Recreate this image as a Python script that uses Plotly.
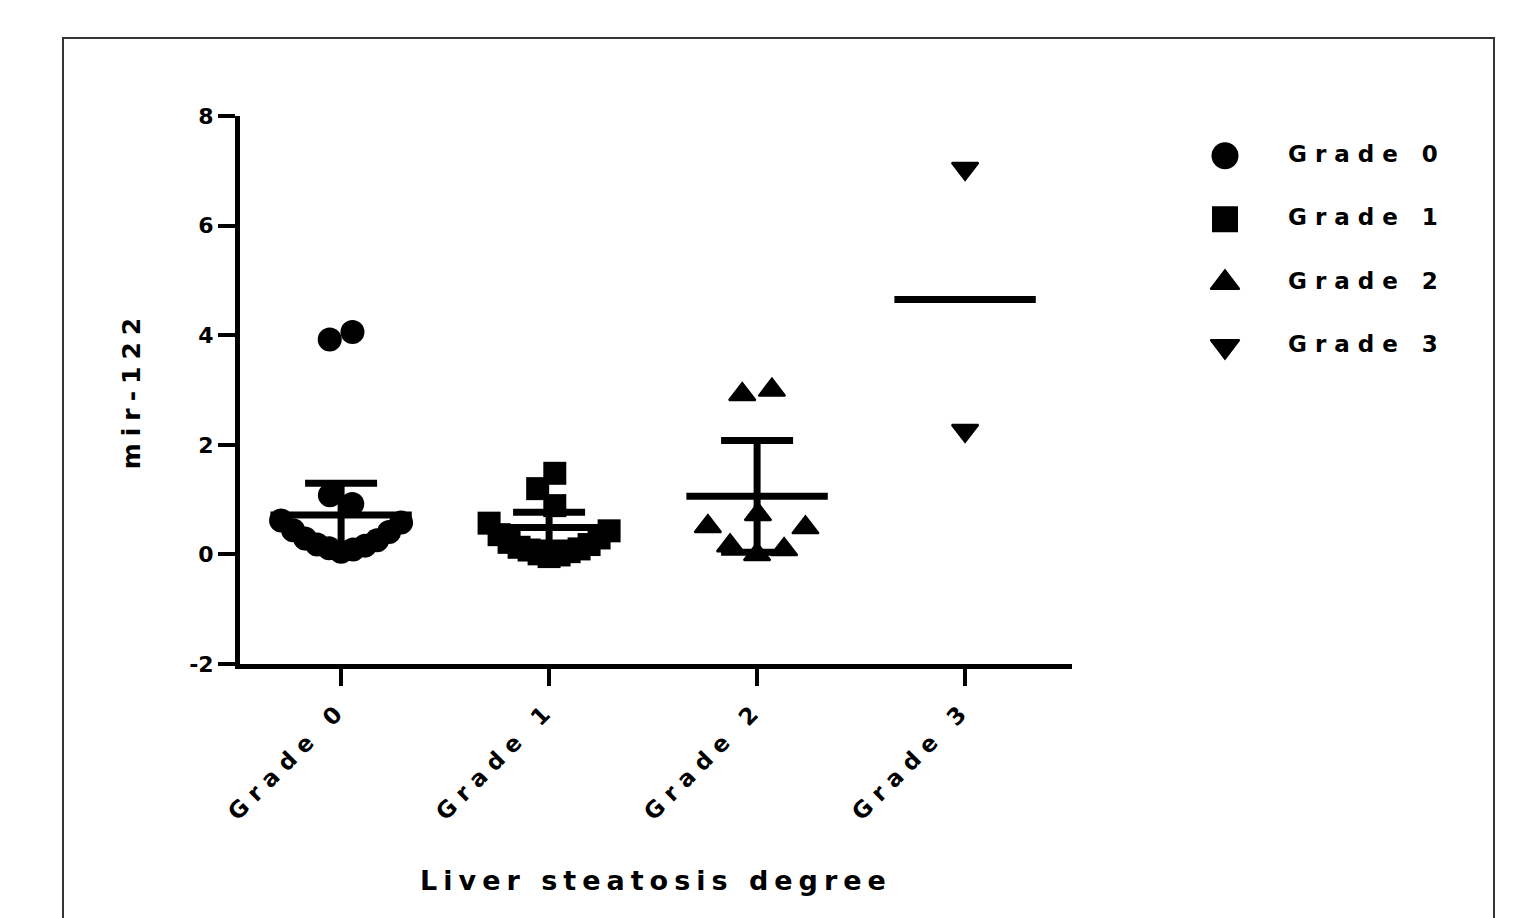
import math
import numpy as np
import plotly.graph_objects as go

# ---------------- data ----------------
categories = ["Grade 0", "Grade 1", "Grade 2", "Grade 3"]
grade0 = [0.05, 0.09, 0.11, 0.16, 0.18, 0.26, 0.29, 0.41, 0.44, 0.58, 0.62,
          0.92, 1.08, 3.92, 4.06]
grade1 = [-0.04, -0.01, 0.01, 0.05, 0.08, 0.10, 0.13, 0.18, 0.22, 0.30, 0.36, 0.43, 0.57,
          1.48, 1.20, 0.89]
grade2 = [0.00, 0.09, 0.16, 0.73, 0.49, 0.51, 3.00, 2.92]
grade3 = [2.26, 7.04]
means = [0.72, 0.49, 1.06, 4.65]
errors = [0.58, 0.28, 1.02, 0.0]
symbols = ["circle", "square", "triangle-up", "triangle-down"]
y_ticks = [-2, 0, 2, 4, 6, 8]
y_tick_labels = ["-2", "0", "2", "4", "6", "8"]
x_title = "Liver steatosis degree"
y_title = "mir-122"

groups = [grade0, grade1, grade2, grade3]

# ---------------- layout geometry ----------------
W, H = 1523, 918
ML, MR, MT, MB = 240, 23, 116, 254
PW, PH = W - ML - MR, H - MT - MB
MAIN_RIGHT = 1072
XR = [-0.486, 3.514]
YR = [-2, 8]
PX_X = (MAIN_RIGHT - ML) / (XR[1] - XR[0])
PX_Y = PH / (YR[1] - YR[0])
SWARM_STEP_PX = [12, 10, 27, 12]   # column spacing of the dense lower cluster
SWARM_DIST_PX = [24, 23, 30, 24]   # no-overlap distance for the other points
CLUSTER_GAP = 0.25


def px_to_paper_x(px):
    return (px - ML) / PW


def px_to_paper_y(py):
    return (H - MB - py) / PH


def dot_layout(values, step_px, dist_px):
    """Scatter-dot layout: the dense lowest cluster is spread centre-out by rank
    (a 'smile'); the remaining points are placed one by one at the free position
    closest to the centre, then each touching group of them is re-centred."""
    vals = [float(v) for v in values]
    idx_sorted = sorted(range(len(vals)), key=lambda i: vals[i])
    nb = 1
    while nb < len(idx_sorted) and vals[idx_sorted[nb]] - vals[idx_sorted[nb - 1]] <= CLUSTER_GAP:
        nb += 1
    col_order = [0] + [s * k for k in range(1, 60) for s in (1, -1)]
    offs = [None] * len(vals)
    placed = []
    for rank, i in enumerate(idx_sorted[:nb]):
        x = col_order[rank] * step_px
        offs[i] = x
        placed.append((x, vals[i] * PX_Y))
    side = -1
    rest = []
    for i in range(len(vals)):
        if offs[i] is not None:
            continue
        rest.append(i)
        y = vals[i] * PX_Y
        cands = {0.0}
        for xp, yp in placed:
            dy = y - yp
            if abs(dy) < dist_px:
                dx = math.sqrt(dist_px ** 2 - dy ** 2)
                cands.add(xp + dx)
                cands.add(xp - dx)
        best = 0.0
        for c in sorted(cands, key=lambda c: (round(abs(c), 3), -side * c)):
            if all((c - xp) ** 2 + (y - yp) ** 2 >= dist_px ** 2 - 1e-6 for xp, yp in placed):
                best = c
                break
        if abs(best) > 1e-9:
            side = -side
        offs[i] = best
        placed.append((best, y))
    # re-centre groups of upper points that touch each other
    rest.sort(key=lambda i: vals[i])
    groups_ = []
    for i in rest:
        if groups_ and (vals[i] - vals[groups_[-1][-1]]) * PX_Y < dist_px:
            groups_[-1].append(i)
        else:
            groups_.append([i])
    for g in groups_:
        if len(g) > 1:
            shift = np.mean([offs[i] for i in g])
            for i in g:
                offs[i] -= shift
    return np.array(offs) / PX_X


FONT = "DejaVu Sans"
fig = go.Figure()

marker_sizes = [24, 23, 23, 23]
for i, (vals, sym) in enumerate(zip(groups, symbols)):
    offs = dot_layout(vals, SWARM_STEP_PX[i], SWARM_DIST_PX[i])
    tri = "triangle" in sym
    fig.add_trace(go.Scatter(
        x=i + offs, y=vals, mode="markers", name=categories[i], showlegend=False,
        marker=dict(symbol=sym, size=marker_sizes[i], color="black", opacity=1,
                    line=dict(width=2 if tri else 0, color="black")),
        cliponaxis=False, hoverinfo="y",
    ))

# mean lines with error bars
fig.add_trace(go.Scatter(
    x=list(range(len(categories))), y=means, mode="markers", showlegend=False,
    marker=dict(symbol="line-ew", size=101, color="black", opacity=1,
                line=dict(width=7, color="black")),
    error_y=dict(type="data", array=errors, thickness=7, width=36, color="black"),
    cliponaxis=False, hoverinfo="y",
))

# legend (markers + labels) on a hidden helper axis pair
n = len(categories)
fig.add_trace(go.Scatter(
    x=np.zeros(n), y=categories, mode="markers", showlegend=False, xaxis="x2", yaxis="y2",
    marker=dict(symbol=symbols, size=[27, 26, 25, 25], color="black", opacity=1,
                line=dict(width=[0, 0, 2, 2], color="black")),
    cliponaxis=False, hoverinfo="skip",
))
fig.add_trace(go.Scatter(
    x=np.ones(n), y=categories, mode="text", text=categories, textposition="middle right",
    showlegend=False, xaxis="x2", yaxis="y2",
    textfont=dict(family=FONT, size=23, color="black", weight="bold"),
    cliponaxis=False, hoverinfo="skip",
))

axis_common = dict(
    showline=True, linewidth=5, linecolor="black", ticks="outside", ticklen=17,
    tickwidth=4, tickcolor="black", showgrid=False, zeroline=False,
)

fig.update_layout(
    width=W, height=H,
    margin=dict(l=ML, r=MR, t=MT, b=MB, autoexpand=False),
    paper_bgcolor="white", plot_bgcolor="white",
    showlegend=False,
    xaxis=dict(
        domain=[0, px_to_paper_x(MAIN_RIGHT)], range=XR,
        tickmode="array", tickvals=list(range(n)), ticktext=categories,
        tickangle=-45,
        tickfont=dict(family=FONT, size=23, color="black", weight="bold"),
        title=dict(text=x_title, standoff=88,
                   font=dict(family=FONT, size=27, color="black", weight="bold")),
        **axis_common,
    ),
    yaxis=dict(
        range=YR, tickmode="array", tickvals=y_ticks, ticktext=y_tick_labels,
        tickfont=dict(family=FONT, size=22, color="black", weight="bold"),
        title=dict(text=y_title, standoff=43,
                   font=dict(family=FONT, size=25, color="black", weight="bold")),
        **axis_common,
    ),
    xaxis2=dict(domain=[px_to_paper_x(1225), px_to_paper_x(1288)], range=[0, 1],
                visible=False, anchor="y2"),
    yaxis2=dict(domain=[px_to_paper_y(378), px_to_paper_y(124)], type="category",
                categoryorder="array", categoryarray=categories,
                range=[n - 0.5, -0.5], visible=False, anchor="x2"),
    shapes=[dict(type="rect", xref="paper", yref="paper",
                 x0=px_to_paper_x(63), x1=px_to_paper_x(1494),
                 y0=px_to_paper_y(960), y1=px_to_paper_y(38),
                 line=dict(color="#333333", width=2), fillcolor="rgba(0,0,0,0)",
                 layer="below")],
)

css = ("body{margin:0;}"
       ".xtitle{letter-spacing:6px;}"
       ".ytitle{letter-spacing:7px;}"
       ".xtick text{letter-spacing:8px;}"
       ".textpoint text{letter-spacing:8px;}")
post = ("var s=document.createElement('style');s.textContent=" + repr(css) +
        ";document.head.appendChild(s);")

fig.write_html("out.html", post_script=post, config={"displayModeBar": False})
